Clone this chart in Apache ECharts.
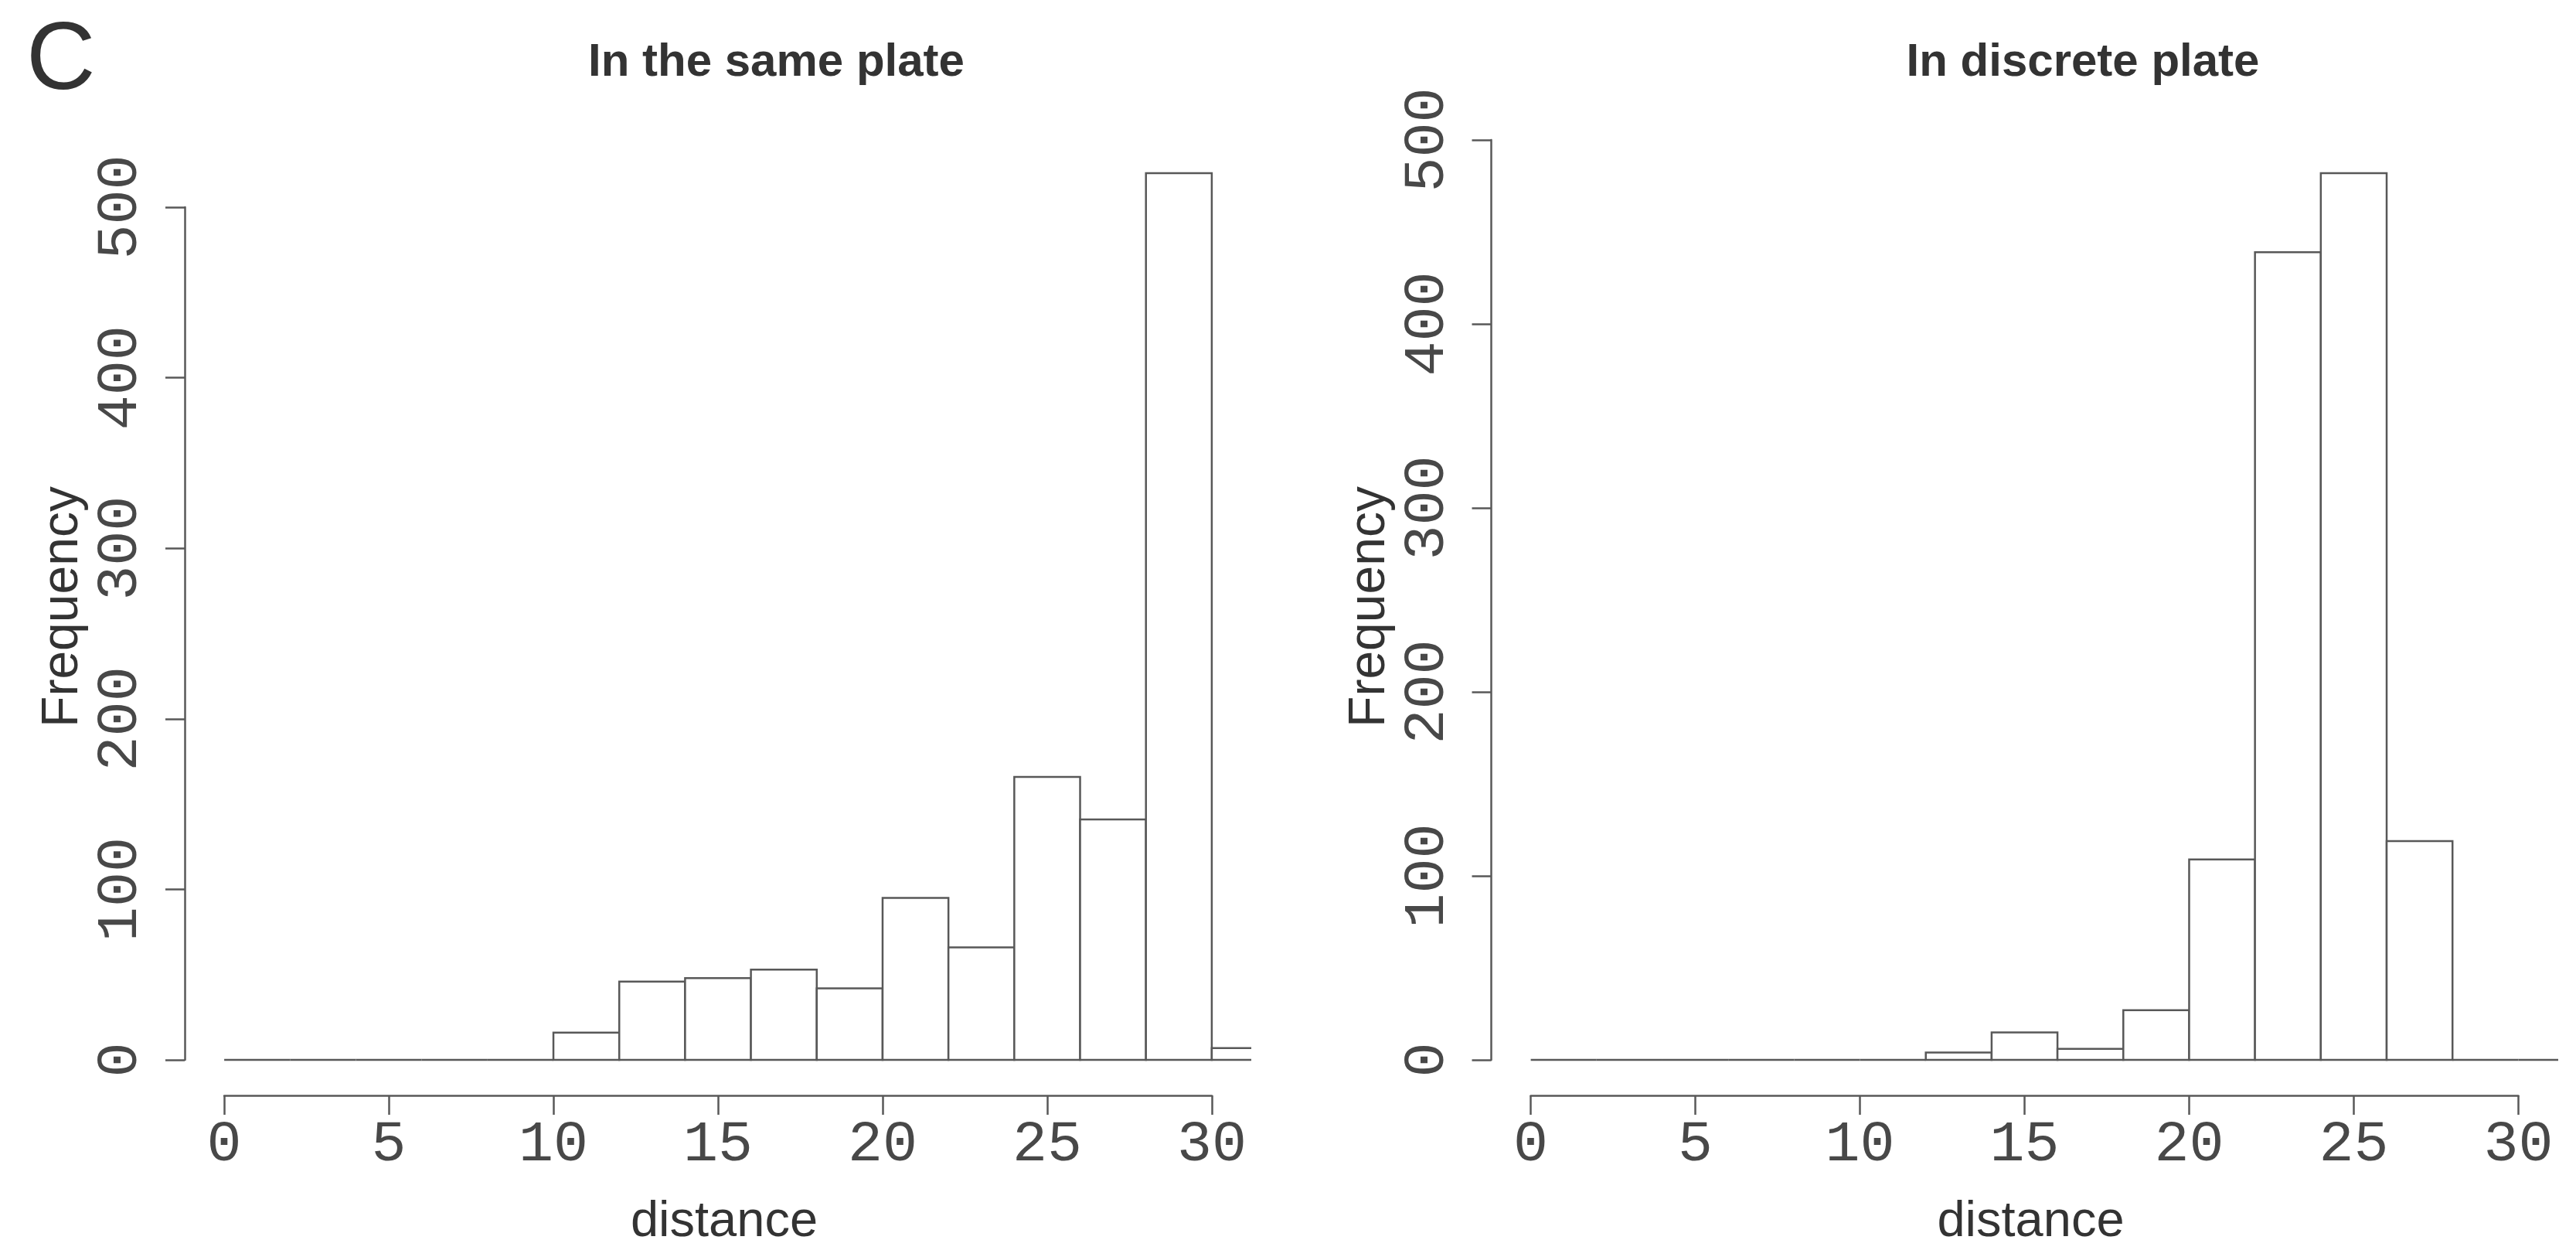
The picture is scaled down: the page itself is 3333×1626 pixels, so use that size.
<!DOCTYPE html>
<html>
<head>
<meta charset="utf-8">
<script src="https://cdn.jsdelivr.net/npm/echarts@6/dist/echarts.min.js"></script>
<style>html,body{margin:0;padding:0;background:#fff}#c{width:3333px;height:1626px}</style>
</head>
<body>
<div id="c"></div>
<script>
// ---- data ----
const binEdges = [0, 2, 4, 6, 8, 10, 12, 14, 16, 18, 20, 22, 24, 26, 28, 30, 32];
const samePlate = [0, 0, 0, 0, 0, 16, 46, 48, 53, 42, 95, 66, 166, 141, 520, 7];
const discretePlate = [0, 0, 0, 0, 0, 0, 4, 15, 6, 27, 109, 439, 482, 119, 0, 0];
const panelTitles = ['In the same plate', 'In discrete plate'];
const xName = 'distance';
const yName = 'Frequency';
const panelLetter = 'C';
const xTickStep = 5, xTickMax = 30;
const yTickStep = 100, yTickMax = 500;

// ---- layout ----
const plotTop = 178, plotH = 1239, plotW = 1380;
const panelLeft = [239, 1929.5];
const xMin = -0.04 * xTickMax, xMax = 1.04 * xTickMax;
const lineColor = '#585858';
const textColor = '#333';

const grids = [], xAxes = [], yAxes = [], series = [], graphics = [];

function addPanel(i, counts) {
  const ymax = Math.max(...counts);
  const yLo = -0.04 * ymax, yHi = 1.04 * ymax;
  const pxY = v => plotTop + plotH * (yHi - v) / (yHi - yLo);
  const pxX = v => panelLeft[i] + plotW * (v - xMin) / (xMax - xMin);
  const g0 = grids.length;
  // plotting region (hidden axes)
  grids.push({ left: panelLeft[i], top: plotTop, width: plotW, height: plotH, outerBoundsMode: 'none' });
  xAxes.push({ type: 'value', gridIndex: g0, min: xMin, max: xMax, show: false });
  yAxes.push({ type: 'value', gridIndex: g0, min: yLo, max: yHi, show: false });
  // axis region (R style detached axes)
  const ax0 = pxX(0), ax1 = pxX(xTickMax), ay0 = pxY(0), ay1 = pxY(yTickMax);
  grids.push({ left: ax0, top: ay1, width: ax1 - ax0, height: ay0 - ay1, outerBoundsMode: 'none' });
  const axisCommon = {
    type: 'value', gridIndex: g0 + 1,
    axisLine: { show: true, onZero: false, lineStyle: { color: lineColor, width: 2.5 } },
    axisTick: { show: true, inside: false, length: 25, lineStyle: { color: lineColor, width: 2.5 } },
    splitLine: { show: false },
    axisLabel: { fontFamily: 'Liberation Mono', fontSize: 75, color: '#484848' }
  };
  xAxes.push(Object.assign({}, axisCommon, {
    min: 0, max: xTickMax, interval: xTickStep, position: 'bottom',
    offset: (plotTop + plotH) - ay0,
    axisLabel: Object.assign({}, axisCommon.axisLabel, { margin: 27 })
  }));
  yAxes.push(Object.assign({}, axisCommon, {
    min: 0, max: yTickMax, interval: yTickStep, position: 'left',
    offset: ax0 - panelLeft[i],
    axisLabel: Object.assign({}, axisCommon.axisLabel, { rotate: 90, margin: 45 })
  }));
  // histogram
  const data = counts.map((c, k) => [binEdges[k], binEdges[k + 1], c]);
  series.push({
    type: 'custom', xAxisIndex: g0, yAxisIndex: g0, clip: true, data: data,
    encode: { x: [0, 1], y: 2 },
    renderItem: function (params, api) {
      const a = api.coord([api.value(0), api.value(2)]);
      const b = api.coord([api.value(1), 0]);
      return {
        type: 'polygon',
        shape: { points: [[a[0], b[1]], [a[0], a[1]], [b[0], a[1]], [b[0], b[1]]] },
        style: { fill: '#fff', stroke: lineColor, lineWidth: 2.5 }
      };
    }
  });
  // texts
  graphics.push({ type: 'text', x: panelLeft[i] + 765.5, y: 77, style: {
    text: panelTitles[i], fontFamily: 'Liberation Sans', fontWeight: 'bold', fontSize: 60,
    fill: textColor, align: 'center', verticalAlign: 'middle' } });
  graphics.push({ type: 'text', x: panelLeft[i] + 698, y: 1576, style: {
    text: xName, fontFamily: 'Liberation Sans', fontSize: 65,
    fill: textColor, align: 'center', verticalAlign: 'middle' } });
  graphics.push({ type: 'text', x: panelLeft[i] - 162, y: 785, rotation: Math.PI / 2, style: {
    text: yName, fontFamily: 'Liberation Sans', fontSize: 66,
    fill: textColor, align: 'center', verticalAlign: 'middle' } });
}

addPanel(0, samePlate);
addPanel(1, discretePlate);

graphics.push({ type: 'text', x: 34, y: 72, style: {
  text: panelLetter, fontFamily: 'Liberation Sans', fontSize: 124,
  fill: textColor, align: 'left', verticalAlign: 'middle' } });

const chart = echarts.init(document.getElementById('c'), null, { renderer: 'svg' });
chart.setOption({
  animation: false,
  backgroundColor: '#fff',
  textStyle: { fontFamily: 'Liberation Sans' },
  grid: grids,
  xAxis: xAxes,
  yAxis: yAxes,
  series: series,
  graphic: graphics
});
</script>
</body>
</html>
